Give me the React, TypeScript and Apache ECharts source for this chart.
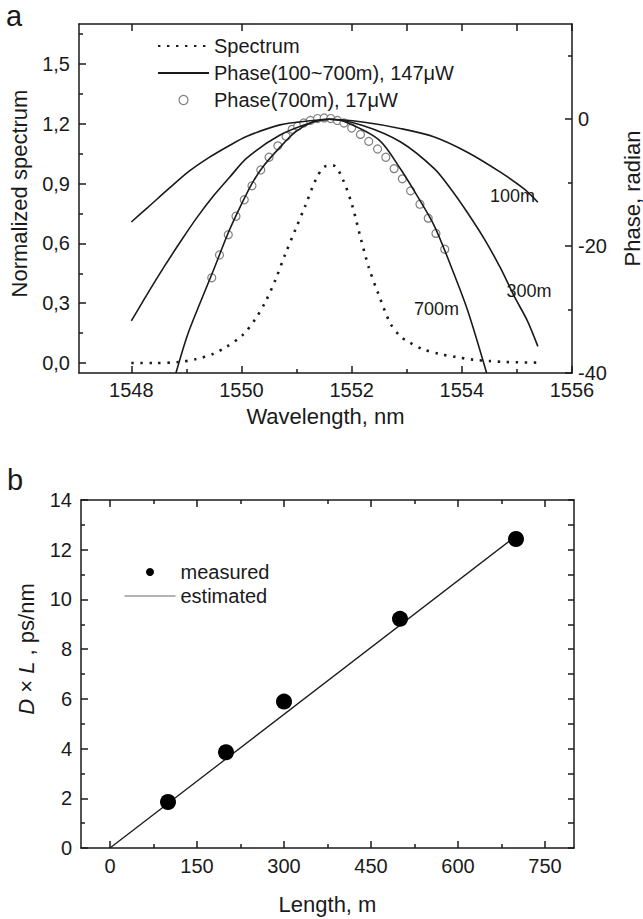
import React, { useEffect, useRef } from 'react';
import * as echarts from 'echarts';

const FONT = '"Liberation Sans", Arial, Helvetica, sans-serif';
const INK = '#1a1a1a';

// ---------- Panel a: ticks ----------
const wavelengthTicks = [1548, 1550, 1552, 1554, 1556];
const wavelengthMinorTicks = [1549, 1551, 1553, 1555];
const wavelengthTopTicks = [1548, 1550, 1552, 1553, 1554, 1555, 1556];
const spectrumTicks = [0, 0.3, 0.6, 0.9, 1.2, 1.5];
const spectrumMinorTicks = [0.15, 0.45, 0.75, 1.05, 1.35, 1.65];
const phaseTicks = [-40, -20, 0];
const phaseMinorTicks = [-30, -10, 10];

// ---------- Panel a: data ----------
const spectrumWl = [1548.0, 1548.4, 1548.87, 1549.18, 1549.48, 1549.72, 1550.02, 1550.25, 1550.44, 1550.62, 1550.8, 1550.98, 1551.16, 1551.35, 1551.51, 1551.67, 1551.84, 1552.01, 1552.16, 1552.31, 1552.48, 1552.7, 1552.88, 1553.04, 1553.3, 1553.6, 1553.9, 1554.2, 1554.5, 1554.8, 1555.38];
const spectrumVal = [0.0, 0.0, 0.005, 0.02, 0.045, 0.08, 0.14, 0.22, 0.31, 0.42, 0.55, 0.67, 0.79, 0.92, 0.985, 0.99, 0.92, 0.79, 0.63, 0.48, 0.35, 0.2, 0.135, 0.105, 0.068, 0.045, 0.03, 0.017, 0.01, 0.005, 0.002];

const phase100Wl = [1548.0, 1548.3, 1548.7, 1549.05, 1549.4, 1549.75, 1550.1, 1550.7, 1551.3, 1551.6, 1552.2, 1552.9, 1553.5, 1554.1, 1554.7, 1555.13, 1555.38];
const phase100Val = [-16.2, -13.9, -10.8, -8.2, -6.1, -4.3, -2.7, -0.9, -0.2, 0, -0.45, -1.5, -2.8, -5.2, -8.35, -11.0, -13.1];

const phase300Wl = [1548.0, 1548.3, 1548.6, 1548.9, 1549.2, 1549.5, 1549.78, 1550.1, 1550.7, 1551.3, 1551.6, 1552.2, 1552.89, 1553.5, 1553.8, 1554.1, 1554.41, 1554.71, 1554.95, 1555.18, 1555.38];
const phase300Val = [-31.8, -27.4, -23.2, -19.2, -15.4, -12.0, -9.2, -6.1, -2.5, -0.45, 0, -1.0, -3.6, -7.8, -11.0, -14.7, -18.9, -23.6, -27.9, -31.6, -35.8];

const phase700Wl = [1548.81, 1549.02, 1549.27, 1549.5, 1549.76, 1550.0, 1550.2, 1550.38, 1550.68, 1550.98, 1551.29, 1551.6, 1551.89, 1552.5, 1552.89, 1553.19, 1553.5, 1553.8, 1554.1, 1554.45];
const phase700Val = [-40, -34.0, -28.5, -23.6, -17.9, -13.4, -10.0, -7.6, -4.6, -2.0, -0.45, 0, -0.45, -3.3, -7.9, -12.1, -16.8, -23.1, -30.0, -40];

const measured700Wl = [1549.46, 1549.6, 1549.76, 1549.9, 1550.05, 1550.19, 1550.35, 1550.5, 1550.66, 1550.81, 1550.92, 1551.02, 1551.13, 1551.25, 1551.38, 1551.5, 1551.62, 1551.74, 1551.86, 1552.0, 1552.16, 1552.31, 1552.47, 1552.62, 1552.77, 1552.92, 1553.07, 1553.24, 1553.39, 1553.53, 1553.69];
const measured700Val = [-25.0, -21.4, -18.2, -15.3, -12.7, -10.5, -8.0, -6.0, -4.2, -2.7, -1.6, -1.1, -0.6, -0.2, 0.1, 0.2, 0.1, -0.2, -0.6, -1.4, -2.4, -3.5, -4.7, -6.0, -7.8, -9.4, -11.3, -13.4, -15.6, -18.0, -20.5];

const curveLabelText = ['100m', '300m', '700m'];
const curveLabelWl = [1554.92, 1555.22, 1553.54];
const curveLabelPhase = [-12.06, -27.09, -29.98];

// ---------- Panel b ----------
const lengthTicks = [0, 150, 300, 450, 600, 750];
const lengthMinorTicks = [75, 225, 375, 525, 675];
const measuredLength = [100, 200, 300, 500, 700];
const measuredDL = [1.85, 3.85, 5.89, 9.22, 12.43];
const estimatedLength = [0, 700];
const estimatedDL = [0, 12.55];

const zip = (a: number[], b: number[]) => a.map((x, i) => [x, b[i]]);

const axisLine = { color: INK, width: 1.5 };
const labelStyle = { fontSize: 20, color: INK, fontFamily: FONT };
const nameStyle = { fontSize: 22, color: INK, fontFamily: FONT };
const hiddenSymbol = { opacity: 0, color: 'rgba(0,0,0,0)', borderWidth: 0 };

function axis(extra: any) {
  return {
    type: 'value',
    splitLine: { show: false },
    axisLine: { show: false, onZero: false, lineStyle: axisLine },
    axisTick: { show: false },
    axisLabel: { show: false },
    ...extra,
  };
}

function ticks(values: number[], length: number) {
  return { show: true, inside: true, length, customValues: values, lineStyle: axisLine };
}

const NAME_100_700 = 'Phase(100~700m), 147\u03bcW';
const NAME_700 = 'Phase(700m), 17\u03bcW';

function buildOption(): any {
  const phaseCurve = (wl: number[], val: number[], idx: number) => ({
    type: 'line',
    name: NAME_100_700,
    xAxisIndex: 0,
    yAxisIndex: 2,
    data: zip(wl, val),
    symbol: 'none',
    showSymbol: false,
    smooth: 0.3,
    lineStyle: { color: INK, width: 1.6 },
    itemStyle: { color: INK },
    z: 3,
    silent: true,
    markPoint: {
      symbol: 'circle',
      symbolSize: 1,
      itemStyle: { color: 'rgba(0,0,0,0)' },
      label: { show: true, position: 'inside', formatter: '{b}', fontSize: 18, color: INK, fontFamily: FONT },
      data: [{ name: curveLabelText[idx], coord: [curveLabelWl[idx], curveLabelPhase[idx]] }],
    },
  });

  return {
    animation: false,
    backgroundColor: '#fff',
    textStyle: { fontFamily: FONT },
    grid: [
      { left: 79, top: 24, width: 493, height: 349, containLabel: false, outerBoundsMode: 'none' },
      { left: 81, top: 500, width: 493, height: 348, containLabel: false, outerBoundsMode: 'none' },
    ],
    xAxis: [
      axis({
        gridIndex: 0, position: 'bottom', min: 1547.05, max: 1556,
        axisLine: { show: true, onZero: false, lineStyle: axisLine },
        axisTick: ticks(wavelengthTicks, 7),
        axisLabel: { show: true, customValues: wavelengthTicks, formatter: (v: number) => String(v), margin: 7, ...labelStyle },
        name: 'Wavelength, nm', nameLocation: 'middle', nameGap: 32, nameTextStyle: nameStyle,
      }),
      axis({ gridIndex: 0, position: 'bottom', min: 1547.05, max: 1556, axisTick: ticks(wavelengthMinorTicks, 4) }),
      axis({
        gridIndex: 0, position: 'top', min: 1547.05, max: 1556,
        axisLine: { show: true, onZero: false, lineStyle: axisLine },
        axisTick: ticks(wavelengthTopTicks, 7),
      }),
      axis({
        gridIndex: 1, position: 'bottom', min: -50, max: 800,
        axisLine: { show: true, onZero: false, lineStyle: axisLine },
        axisTick: ticks(lengthTicks, 7),
        axisLabel: { show: true, customValues: lengthTicks, formatter: (v: number) => String(v), margin: 8, ...labelStyle },
        name: 'Length, m', nameLocation: 'middle', nameGap: 45, nameTextStyle: nameStyle,
      }),
      axis({ gridIndex: 1, position: 'bottom', min: -50, max: 800, axisTick: ticks(lengthMinorTicks, 4) }),
      axis({
        gridIndex: 1, position: 'top', min: -50, max: 800,
        axisLine: { show: true, onZero: false, lineStyle: axisLine },
        axisTick: ticks(lengthTicks, 7),
      }),
      axis({ gridIndex: 1, position: 'top', min: -50, max: 800, axisTick: ticks(lengthMinorTicks, 4) }),
    ],
    yAxis: [
      axis({
        gridIndex: 0, position: 'left', min: -0.05, max: 1.7,
        axisLine: { show: true, onZero: false, lineStyle: axisLine },
        axisTick: ticks(spectrumTicks, 7),
        axisLabel: { show: true, customValues: spectrumTicks, formatter: (v: number) => v.toFixed(1).replace('.', ','), margin: 9, ...labelStyle },
        name: 'Normalized spectrum', nameLocation: 'middle', nameGap: 49,
        nameTextStyle: { ...nameStyle, padding: [0, 0, 0, 10] },
      }),
      axis({ gridIndex: 0, position: 'left', min: -0.05, max: 1.7, axisTick: ticks(spectrumMinorTicks, 4) }),
      axis({
        gridIndex: 0, position: 'right', min: -40, max: 15,
        axisLine: { show: true, onZero: false, lineStyle: axisLine },
        axisTick: ticks(phaseTicks, 7),
        axisLabel: { show: true, customValues: phaseTicks, formatter: (v: number) => String(v), margin: 6, ...labelStyle },
        name: 'Phase, radian', nameLocation: 'middle', nameGap: 49, nameTextStyle: nameStyle,
      }),
      axis({ gridIndex: 0, position: 'right', min: -40, max: 15, axisTick: ticks(phaseMinorTicks, 4) }),
      axis({
        gridIndex: 1, position: 'left', min: 0, max: 14, interval: 2,
        axisLine: { show: true, onZero: false, lineStyle: axisLine },
        axisTick: { show: true, inside: true, length: 7, lineStyle: axisLine },
        minorTick: { show: true, splitNumber: 2, length: 4, lineStyle: axisLine },
        minorSplitLine: { show: false },
        axisLabel: { show: true, margin: 9, ...labelStyle },
        name: '{i|D} \u00d7 {i|L} , ps/nm', nameLocation: 'middle', nameGap: 44,
        nameTextStyle: {
          ...nameStyle,
          padding: [0, 0, 0, 50],
          rich: { i: { fontStyle: 'italic', fontSize: 22, color: INK, fontFamily: FONT } },
        },
      }),
      axis({
        gridIndex: 1, position: 'right', min: 0, max: 14, interval: 1,
        axisLine: { show: true, onZero: false, lineStyle: axisLine },
        axisTick: { show: true, inside: true, length: 6, lineStyle: axisLine },
      }),
    ],
    legend: [
      {
        orient: 'vertical', left: 152, top: 31, itemWidth: 51, itemHeight: 9, itemGap: 7,
        selectedMode: false, textStyle: { fontSize: 20, color: INK, fontFamily: FONT },
        data: [
          { name: 'Spectrum', itemStyle: hiddenSymbol },
          { name: NAME_100_700, itemStyle: hiddenSymbol },
          { name: NAME_700, itemStyle: { borderWidth: 1.2, borderColor: '#808080', color: '#fff', opacity: 1 } },
        ],
      },
      {
        orient: 'vertical', left: 119, top: 557, itemWidth: 51, itemHeight: 8, itemGap: 4,
        selectedMode: false, textStyle: { fontSize: 20, color: INK, fontFamily: FONT },
        data: [
          { name: 'measured', itemStyle: { color: '#000', opacity: 1 } },
          { name: 'estimated', lineStyle: { color: '#666', width: 1 }, itemStyle: hiddenSymbol },
        ],
      },
    ],
    graphic: [
      { type: 'text', left: 6, top: 1, style: { text: 'a', font: '29px "Liberation Sans", Arial, sans-serif', fill: INK } },
      { type: 'text', left: 7, top: 465, style: { text: 'b', font: '29px "Liberation Sans", Arial, sans-serif', fill: INK } },
    ],
    series: [
      {
        type: 'line', name: 'Spectrum', xAxisIndex: 0, yAxisIndex: 0,
        data: zip(spectrumWl, spectrumVal), symbol: 'none', showSymbol: false, smooth: 0.3,
        lineStyle: { color: INK, width: 2.6, type: [2.4, 6.6] }, itemStyle: { color: INK }, z: 2, silent: true,
      },
      phaseCurve(phase100Wl, phase100Val, 0),
      phaseCurve(phase300Wl, phase300Val, 1),
      phaseCurve(phase700Wl, phase700Val, 2),
      {
        type: 'scatter', name: NAME_700, xAxisIndex: 0, yAxisIndex: 2,
        data: zip(measured700Wl, measured700Val), symbol: 'circle', symbolSize: 8,
        itemStyle: { color: '#fff', borderColor: '#808080', borderWidth: 1.2, opacity: 1 }, z: 2, silent: true,
      },
      {
        type: 'line', name: 'estimated', xAxisIndex: 3, yAxisIndex: 4,
        data: zip(estimatedLength, estimatedDL), symbol: 'none', showSymbol: false,
        lineStyle: { color: INK, width: 1.3 }, itemStyle: { color: '#666' }, z: 2, silent: true,
      },
      {
        type: 'scatter', name: 'measured', xAxisIndex: 3, yAxisIndex: 4,
        data: zip(measuredLength, measuredDL), symbol: 'circle', symbolSize: 16,
        itemStyle: { color: '#000', opacity: 1 }, z: 3, silent: true,
      },
    ],
  };
}

export default function App() {
  const ref = useRef<HTMLDivElement>(null);
  useEffect(() => {
    if (!ref.current) return;
    const chart = echarts.init(ref.current, null, { renderer: 'svg' });
    chart.setOption(buildOption());
    return () => chart.dispose();
  }, []);
  return (
    <div
      ref={ref}
      style={{ position: 'fixed', left: 0, top: 0, width: 643, height: 919, background: '#fff' }}
    />
  );
}
